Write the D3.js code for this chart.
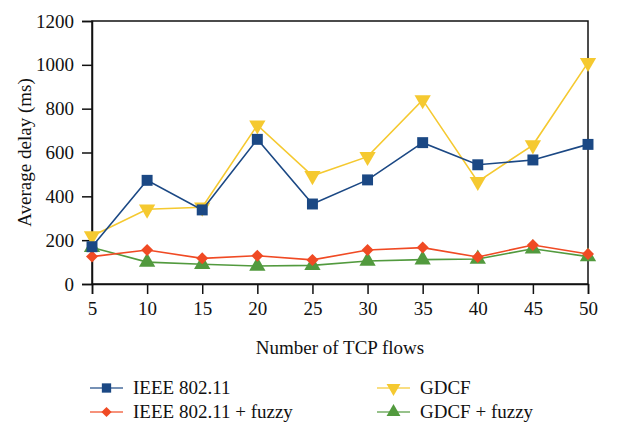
<!DOCTYPE html>
<html>
<head>
<meta charset="utf-8">
<script src="https://cdn.jsdelivr.net/npm/d3@7"></script>
<style>
  body { margin: 0; background: #fff; }
  text { font-family: "Liberation Serif", "DejaVu Serif", serif; fill: #111; }
</style>
</head>
<body>
<svg id="chart" width="626" height="423"></svg>
<script>
// data
const flows = [5, 10, 15, 20, 25, 30, 35, 40, 45, 50];
const ieee = [170, 473, 338, 660, 365, 475, 645, 544, 566, 637];
const ieeeFuzzy = [125, 155, 117, 129, 110, 155, 166, 123, 178, 137];
const gdcf = [219, 341, 350, 725, 494, 581, 840, 467, 634, 1010];
const gdcfFuzzy = [167, 100, 90, 82, 85, 105, 111, 114, 161, 125];
const yTicks = [0, 200, 400, 600, 800, 1000, 1200];

const series = [
  { name: "IEEE 802.11", values: ieee, color: "#1b4884", sym: "square" },
  { name: "IEEE 802.11 + fuzzy", values: ieeeFuzzy, color: "#f04a24", sym: "diamond" },
  { name: "GDCF", values: gdcf, color: "#f5c930", sym: "down" },
  { name: "GDCF + fuzzy", values: gdcfFuzzy, color: "#529a3e", sym: "up" }
];

const svg = d3.select("#chart");
const plotL = 92, plotR = 588, plotT = 21, plotB = 284;
const fs = "19px";

const x = d3.scaleLinear().domain([5, 50]).range([plotL, plotR]);
const y = d3.scaleLinear().domain([0, 1200]).range([plotB, plotT]);

// frame
svg.append("rect")
  .attr("x", plotL).attr("y", plotT)
  .attr("width", plotR - plotL).attr("height", plotB - plotT)
  .attr("fill", "none").attr("stroke", "#111").attr("stroke-width", 1.5);

const xAxis = svg.append("g")
  .attr("transform", `translate(0,${plotB})`)
  .call(d3.axisBottom(x).tickValues(flows).tickFormat(d3.format("d")).tickSize(10).tickPadding(8));
const yAxis = svg.append("g")
  .attr("transform", `translate(${plotL},0)`)
  .call(d3.axisLeft(y).tickValues(yTicks).tickFormat(d3.format("d")).tickSize(10).tickPadding(8));

[xAxis, yAxis].forEach(g => {
  g.select(".domain").attr("stroke", "#111").attr("stroke-width", 1.5);
  g.selectAll(".tick line").attr("stroke", "#111").attr("stroke-width", 1.5);
  g.selectAll(".tick text").style("font-family", "Liberation Serif").style("font-size", fs).attr("fill", "#111");
});

svg.append("text")
  .attr("x", (plotL + plotR) / 2).attr("y", 354)
  .attr("text-anchor", "middle").style("font-size", fs)
  .text("Number of TCP flows");

svg.append("text")
  .attr("transform", `translate(31,${(plotT + plotB) / 2}) rotate(-90)`)
  .attr("text-anchor", "middle").style("font-size", fs)
  .text("Average delay (ms)");

function symbolPath(kind) {
  if (kind === "square") return d3.symbol(d3.symbolSquare, 120)();
  if (kind === "diamond") return d3.symbol(d3.symbolSquare, 72)();
  return d3.symbol(d3.symbolTriangle, 115)();
}
function symbolRot(kind) {
  if (kind === "diamond") return 45;
  if (kind === "down") return 180;
  return 0;
}

const line = d3.line().x((d, i) => x(flows[i])).y(d => y(d));

// draw back to front: green, red, yellow, blue
const order = [3, 1, 2, 0];
order.forEach(k => {
  const s = series[k];
  const g = svg.append("g");
  g.append("path")
    .datum(s.values)
    .attr("d", line)
    .attr("fill", "none")
    .attr("stroke", s.color)
    .attr("stroke-width", 1.6);
  g.selectAll("path.mark")
    .data(s.values)
    .enter().append("path")
    .attr("class", "mark")
    .attr("d", symbolPath(s.sym))
    .attr("transform", (d, i) => `translate(${x(flows[i])},${y(d)}) rotate(${symbolRot(s.sym)})`)
    .attr("fill", s.color);
});

// legend
const legendPos = [
  { lx: 90, ty: 388 }, { lx: 90, ty: 412 },
  { lx: 377, ty: 388 }, { lx: 377, ty: 412 }
];
series.forEach((s, i) => {
  const p = legendPos[i];
  const g = svg.append("g").attr("transform", `translate(${p.lx},${p.ty})`);
  g.append("line").attr("x1", 0).attr("x2", 33).attr("y1", 0).attr("y2", 0)
    .attr("stroke", s.color).attr("stroke-width", 1.6).attr("stroke-opacity", 0.8);
  g.append("path").attr("d", symbolPath(s.sym))
    .attr("transform", `translate(16.5,0) rotate(${symbolRot(s.sym)}) scale(0.85)`)
    .attr("fill", s.color);
  g.append("text").attr("x", 43).attr("y", 6).style("font-size", fs).text(s.name);
});
</script>
</body>
</html>
